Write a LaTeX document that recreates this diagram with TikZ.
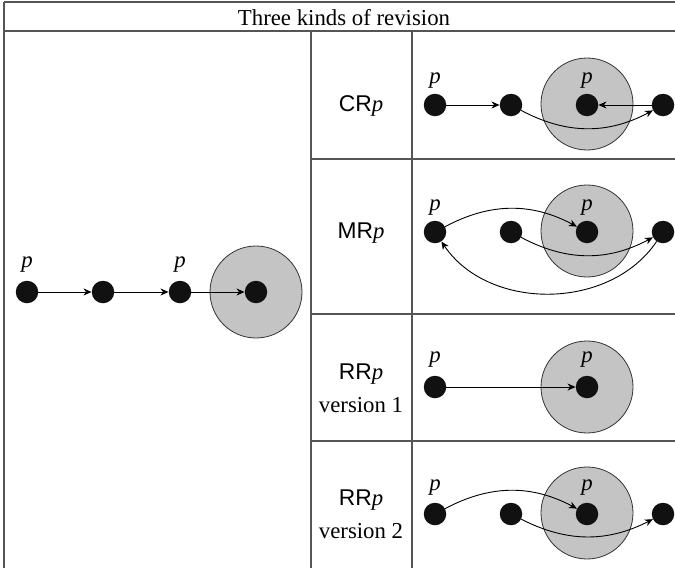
\documentclass[tikz,border=0pt]{standalone}
\usepackage{fontspec}
\setmainfont{Liberation Serif}
\setsansfont{Liberation Sans}
\usetikzlibrary{arrows.meta}
\definecolor{tabline}{HTML}{555555}
\definecolor{zone}{HTML}{C4C4C4}
\definecolor{dotc}{HTML}{111111}
\begin{document}
\begin{tikzpicture}[x=1pt,y=-1pt,
  tab/.style={draw=tabline,line width=1.5pt},
  dotn/.style={circle,fill=dotc,minimum size=22.5pt,inner sep=0pt},
  zonec/.style={circle,fill=zone,draw=black!80,line width=0.8pt,minimum size=92pt,inner sep=0pt},
  arr/.style={-{Stealth[length=8pt,width=7pt,inset=2.5pt]},line width=0.9pt,black},
  lbl/.style={font=\fontsize{22.8}{33}\selectfont,inner sep=0pt,align=center},
  plab/.style={font=\fontsize{22.8}{27}\selectfont\itshape,inner sep=0pt,anchor=base}
]
\useasboundingbox (0,0) rectangle (675,568);
\fill[white] (0,0) rectangle (675,568);
% table
\draw[tab] (4,2) -- (675,2);
\draw[tab] (4,31) -- (675,31);
\draw[tab] (4,2) -- (4,568);
\draw[tab] (311,31) -- (311,568);
\draw[tab] (412,31) -- (412,568);
\draw[tab] (311,159) -- (675,159);
\draw[tab] (311,314) -- (675,314);
\draw[tab] (311,441) -- (675,441);
\node[font=\fontsize{22.8}{27}\selectfont,inner sep=0pt,anchor=base] (title) at (344,25) {Three kinds of revision};
% row labels
\node[lbl] (lcr) at (361,106) {\textsf{CR}\textit{p}};
\node[lbl] (lmr) at (361,233) {\textsf{MR}\textit{p}};
\node[lbl] (lrr1) at (361,388) {\textsf{RR}\textit{p}\\version 1};
\node[lbl] (lrr2) at (361,514) {\textsf{RR}\textit{p}\\version 2};
% zones
\node[zonec] (z0) at (256,292) {};
\node[zonec] (z1) at (587,104) {};
\node[zonec] (z2) at (587,231) {};
\node[zonec] (z3) at (587,387) {};
\node[zonec] (z4) at (587,513) {};
% left diagram
\node[dotn] (a1) at (27,292) {};
\node[dotn] (a2) at (103,292) {};
\node[dotn] (a3) at (180,292) {};
\node[dotn] (a4) at (256,292) {};
\node[plab] (pa1) at (27,267) {p};
\node[plab] (pa3) at (180,267) {p};
\draw[arr] (a1) -- (a2);
\draw[arr] (a2) -- (a3);
\draw[arr] (a3) -- (a4);
% CR
\node[dotn] (c1) at (435,105) {};
\node[dotn] (c2) at (511,105) {};
\node[dotn] (c3) at (587,105) {};
\node[dotn] (c4) at (663,105) {};
\node[plab] (pc1) at (435,83) {p};
\node[plab] (pc3) at (587,83) {p};
\draw[arr] (c1) -- (c2);
\draw[arr] (c4) -- (c3);
\draw[arr] (c2) to[bend right=28] (c4);
% MR
\node[dotn] (m1) at (435,232) {};
\node[dotn] (m2) at (511,232) {};
\node[dotn] (m3) at (587,232) {};
\node[dotn] (m4) at (663,232) {};
\node[plab] (pm1) at (435,210) {p};
\node[plab] (pm3) at (587,210) {p};
\draw[arr] (m1) to[bend left=28] (m3);
\draw[arr] (m2) to[bend right=28] (m4);
\draw[arr] (m4) to[bend left=56] (m1);
% RR v1
\node[dotn] (r1) at (435,387) {};
\node[dotn] (r3) at (587,387) {};
\node[plab] (pr1) at (435,362) {p};
\node[plab] (pr3) at (587,362) {p};
\draw[arr] (r1) -- (r3);
% RR v2
\node[dotn] (s1) at (435,514) {};
\node[dotn] (s2) at (511,514) {};
\node[dotn] (s3) at (587,514) {};
\node[dotn] (s4) at (663,514) {};
\node[plab] (ps1) at (435,490) {p};
\node[plab] (ps3) at (587,490) {p};
\draw[arr] (s1) to[bend left=28] (s3);
\draw[arr] (s2) to[bend right=27] (s4);
\end{tikzpicture}
\end{document}
